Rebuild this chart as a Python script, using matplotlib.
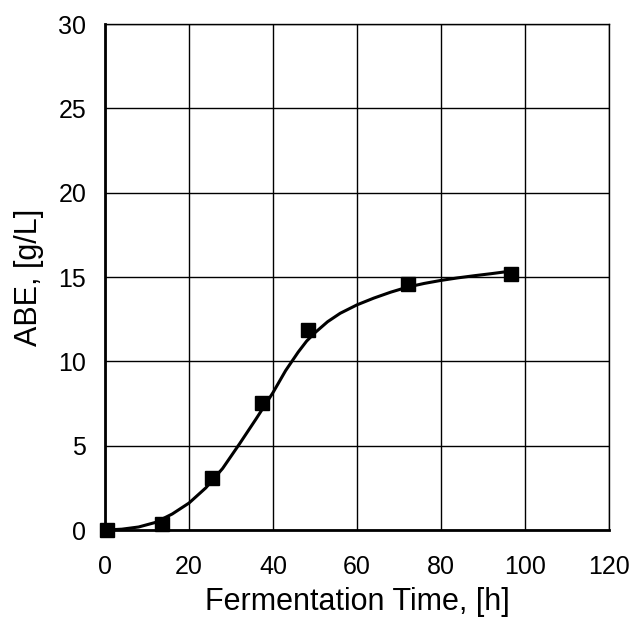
import matplotlib
matplotlib.use("Agg")
import matplotlib.pyplot as plt

plt.rcParams["font.family"] = ["Liberation Sans", "DejaVu Sans"]

# measured points
time_h = [0.5, 13.6, 25.5, 37.3, 48.4, 72.1, 96.6]
abe_gL = [0.0, 0.35, 3.1, 7.55, 11.85, 14.6, 15.15]

# fitted curve
curve_t = [0, 4, 8, 12, 16, 20, 24, 28, 32, 36, 40, 43, 46, 48, 50, 53,
           56, 60, 64, 68, 72, 76, 80, 84, 88, 92, 96.6]
curve_abe = [0, 0.05, 0.18, 0.45, 0.95, 1.6, 2.5, 3.65, 5.1, 6.6, 8.15,
             9.45, 10.55, 11.2, 11.7, 12.35, 12.85, 13.35, 13.75, 14.1,
             14.4, 14.62, 14.8, 14.95, 15.08, 15.2, 15.35]

xticks = [0, 20, 40, 60, 80, 100, 120]
yticks = [0, 5, 10, 15, 20, 25, 30]

fig = plt.figure(figsize=(6.35, 6.24), dpi=100)
ax = fig.add_axes([0.1654, 0.1506, 0.7936, 0.8109])

ax.plot(curve_t, curve_abe, color="black", lw=2.2, zorder=3,
        solid_joinstyle="round")
ax.plot(time_h, abe_gL, "s", color="black", ms=9.5, zorder=4, clip_on=False)

ax.set_xlim(0, 120)
ax.set_ylim(0, 30)
ax.set_xticks(xticks)
ax.set_yticks(yticks)
ax.tick_params(length=0, labelsize=18)
ax.tick_params(axis="x", pad=18)
ax.tick_params(axis="y", pad=13.5)
ax.grid(True, color="black", lw=1.0)
ax.set_axisbelow(True)

for side in ["top", "right"]:
    ax.spines[side].set_linewidth(1.0)
for side in ["left", "bottom"]:
    ax.spines[side].set_linewidth(2.0)

ax.set_xlabel("Fermentation Time, [h]", fontsize=22, labelpad=6)
ax.set_ylabel("ABE, [g/L]", fontsize=22, labelpad=10)

fig.savefig("out.png", dpi=100)
